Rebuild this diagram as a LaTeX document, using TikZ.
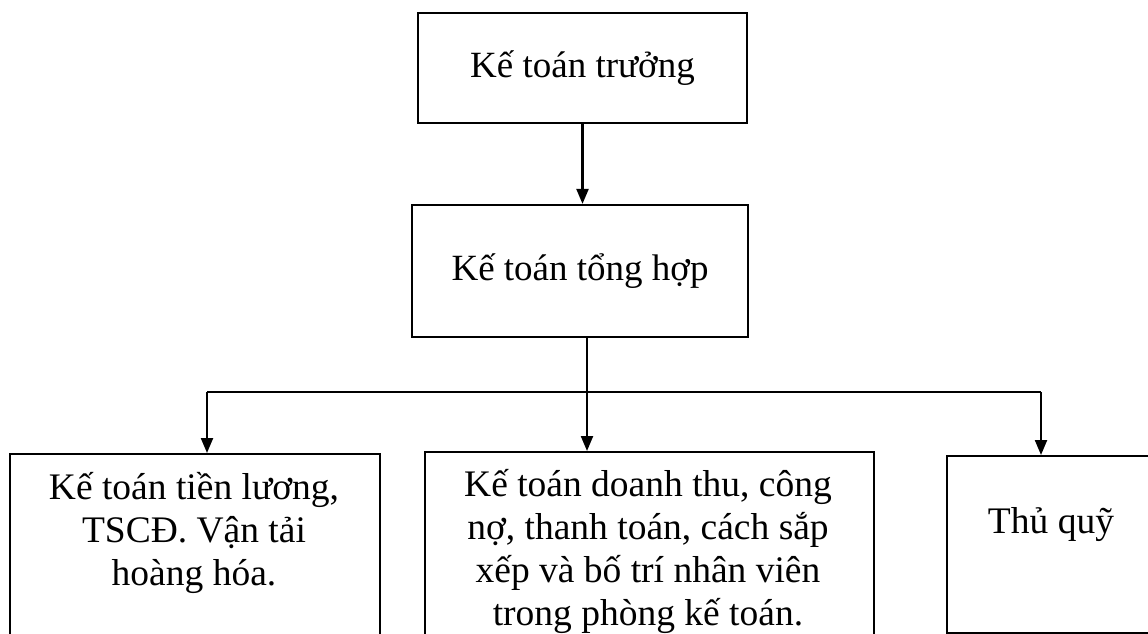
\documentclass[tikz,border=0pt]{standalone}
\usepackage{fontspec}
\setmainfont{Liberation Serif}
\usetikzlibrary{positioning, arrows.meta}

\begin{document}
\begin{tikzpicture}[
    x=1pt, y=-1pt,
    box/.style={draw, line width=2.2pt, black, inner sep=0pt},
    head/.style={box, font=\fontsize{37}{44}\selectfont},
    txt/.style={align=center, inner sep=0pt, font=\fontsize{37.5}{43}\selectfont},
    arrow/.style={-{Triangle[length=15pt, width=12pt]}, line width=2.2pt},
    line/.style={line width=2.2pt}
]
    \useasboundingbox (0,0) rectangle (1148,634);
    \clip (0,0) rectangle (1148,634);

    % --- Upper levels ---
    \node[head, minimum width=329pt, minimum height=110pt] (truong) at (582.5, 68) {Kế toán trưởng};
    \node[head, minimum width=336pt, minimum height=132pt] (tonghop) at (580, 271) {Kế toán tổng hợp};
    \draw[arrow] (truong.south) -- (truong.south |- tonghop.north);

    % --- Lower level boxes (cut by the page edge) ---
    \node[box, anchor=north west, minimum width=370pt, minimum height=260pt] (luong) at (9, 453) {};
    \node[box, anchor=north west, minimum width=449pt, minimum height=260pt] (doanhthu) at (424, 451) {};
    \node[box, anchor=north west, minimum width=212pt, minimum height=177pt] (quy) at (946, 455) {};

    % base anchor sits on the last line
    \node[txt, anchor=base] (luong_txt) at (194, 585) {Kế toán tiền lương,\\TSCĐ. Vận tải\\hoàng hóa.};
    \node[txt, anchor=base] (doanhthu_txt) at (648, 625) {Kế toán doanh thu, công\\nợ, thanh toán, cách sắp\\xếp và bố trí nhân viên\\trong phòng kế toán.};
    \node[txt, anchor=base] (quy_txt) at (1051, 533) {Thủ quỹ};

    % --- Branching from Kế toán tổng hợp ---
    \coordinate (b_mid) at (587, 392);
    \coordinate (b_left) at (207, 392);
    \coordinate (b_right) at (1041, 392);
    \draw[line] (b_mid |- tonghop.south) -- (b_mid);
    \draw[line] (b_left) -- (b_right);
    \draw[arrow] (b_left) -- (b_left |- luong.north);
    \draw[arrow] (b_mid) -- (b_mid |- doanhthu.north);
    \draw[arrow] (b_right) -- (b_right |- quy.north);
\end{tikzpicture}
\end{document}
